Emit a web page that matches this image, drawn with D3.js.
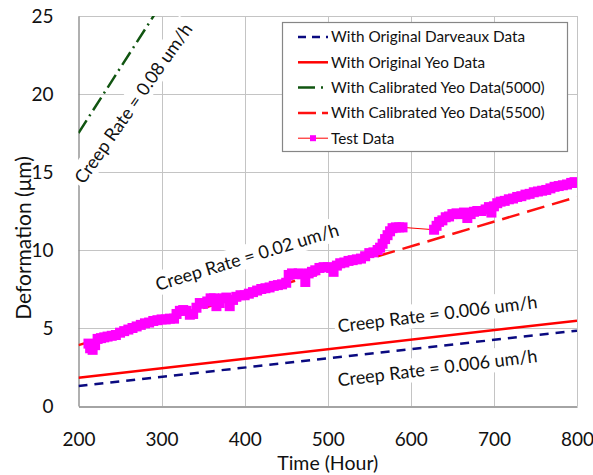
<!DOCTYPE html>
<html>
<head>
<meta charset="utf-8">
<script src="https://cdn.jsdelivr.net/npm/d3@7"></script>
<style>
  html, body { margin: 0; padding: 0; background: #fff; }
  svg { display: block; font-family: Lato, "Open Sans", sans-serif; }
</style>
</head>
<body>
<svg id="chart" width="593" height="475"></svg>
<script>
// ---------- data ----------
const xTicks = [200, 300, 400, 500, 600, 700, 800];
const yTicks = [0, 5, 10, 15, 20, 25];

const modelHours = [200, 800];
const darveauxValues = [1.28, 4.83];
const yeoOriginalValues = [1.81, 5.47];
const yeo5000Values = [17.5, 67.3];
const yeo5500Values = [3.9, 13.4];

const testHours = [212,214,217,220,223,227,231,235,240,245,250,255,260,265,270,275,280,285,290,295,
  300,305,310,315,318,322,326,330,334,338,342,346,350,355,359,363,366,370,374,378,382,386,390,395,
  400,405,410,415,420,425,430,435,440,445,450,453,457,461,465,469,473,477,481,485,490,495,
  500,504,507,511,515,520,525,530,535,540,545,550,555,560,563,566,569,572,575,578,582,586,590,
  628,631,634,638,642,646,650,655,660,664,668,672,676,680,685,690,694,697,
  700,704,708,713,718,723,728,733,738,743,748,753,758,763,768,773,778,783,788,793,797,800];
const testValues = [4.0,3.7,3.6,3.9,4.3,4.35,4.4,4.45,4.5,4.55,4.7,4.8,4.9,5.0,5.1,5.2,5.3,5.35,5.45,5.5,
  5.55,5.55,5.6,5.6,5.9,6.1,6.15,6.1,5.85,5.9,6.3,6.6,6.55,6.7,6.9,6.9,6.4,6.6,6.9,6.95,6.4,6.8,7.0,7.1,
  7.1,7.2,7.3,7.4,7.5,7.55,7.6,7.7,7.75,7.8,7.9,8.4,8.5,8.45,8.5,8.45,7.95,8.5,8.6,8.7,8.85,8.9,
  8.9,8.85,8.6,9.0,9.15,9.2,9.3,9.35,9.4,9.45,9.6,9.8,9.85,10.0,10.15,10.4,10.7,10.95,11.2,11.4,11.45,11.45,11.45,
  11.3,11.55,11.8,11.9,12.1,12.15,12.3,12.35,12.3,12.4,12.05,12.3,12.45,12.5,12.5,12.6,12.75,12.4,
  12.8,13.0,13.1,13.15,13.25,13.3,13.4,13.45,13.55,13.6,13.7,13.75,13.8,13.85,13.95,14.05,14.1,14.15,14.2,14.3,14.35,14.3];

const legendLabels = ["With Original Darveaux Data", "With Original Yeo Data",
  "With Calibrated Yeo Data(5000)", "With Calibrated Yeo Data(5500)", "Test Data"];

const annotationTexts = ["Creep Rate = 0.08 um/h", "Creep Rate = 0.02 um/h",
  "Creep Rate = 0.006 um/h", "Creep Rate = 0.006 um/h"];
const annotationHours = [266, 403, 632, 632];
const annotationValues = [19.4, 9.55, 5.9, 2.44];
const annotationAngles = [-55, -17, -7, -7];

// ---------- layout ----------
const svg = d3.select("#chart");
const plot = { left: 78.5, right: 577, top: 16, bottom: 406 };
const x = d3.scaleLinear().domain([200, 800]).range([plot.left, plot.right]);
const y = d3.scaleLinear().domain([0, 25]).range([plot.bottom, plot.top]);

svg.append("rect").attr("width", 593).attr("height", 475).attr("fill", "#fff");

svg.append("defs").append("clipPath").attr("id", "clip")
  .append("rect").attr("x", plot.left).attr("y", plot.top)
  .attr("width", plot.right - plot.left).attr("height", plot.bottom - plot.top);

// gridlines
const grid = svg.append("g");
grid.selectAll("line.h").data(yTicks.filter(d => d > 0)).join("line")
  .attr("x1", plot.left).attr("x2", plot.right)
  .attr("y1", d => Math.round(y(d)) + 0.5).attr("y2", d => Math.round(y(d)) + 0.5)
  .attr("stroke", "#c4c4c4").attr("stroke-width", 1);
grid.selectAll("line.v").data(xTicks.filter(d => d > 200)).join("line")
  .attr("y1", plot.top).attr("y2", plot.bottom)
  .attr("x1", d => Math.round(x(d)) + 0.5).attr("x2", d => Math.round(x(d)) + 0.5)
  .attr("stroke", "#c4c4c4").attr("stroke-width", 1);

// axes
const xAxis = d3.axisBottom(x).tickValues(xTicks).tickSize(0).tickPadding(0).tickFormat(d3.format("d"));
const yAxis = d3.axisLeft(y).tickValues(yTicks).tickSize(0).tickPadding(0).tickFormat(d3.format("d"));
const gx = svg.append("g").attr("transform", `translate(0,${plot.bottom + 0.5})`).call(xAxis);
const gy = svg.append("g").attr("transform", `translate(${plot.left},0)`).call(yAxis);
[gx, gy].forEach(g => {
  g.select(".domain").attr("stroke", "#868686").attr("stroke-width", 1.3);
  g.selectAll("text").attr("font-family", "Lato, sans-serif").attr("font-size", 19).attr("fill", "#111");
});
gx.selectAll("text").attr("dy", 0).attr("y", 39);
gy.selectAll("text").attr("x", -25).attr("dy", "0.35em");

// axis titles
svg.append("text").attr("x", (plot.left + plot.right) / 2).attr("y", 470)
  .attr("text-anchor", "middle").attr("font-size", 19.5).attr("fill", "#111").text("Time (Hour)");
svg.append("text").attr("transform", "translate(31,238) rotate(-90)")
  .attr("text-anchor", "middle").attr("font-size", 21).attr("fill", "#111").text("Deformation (μm)");

// annotations (white boxes)
const ann = svg.append("g");
annotationTexts.forEach((t, i) => {
  const g = ann.append("g")
    .attr("transform", `translate(${x(annotationHours[i])},${y(annotationValues[i])}) rotate(${annotationAngles[i]})`);
  const txt = g.append("text").attr("text-anchor", "middle").attr("dy", "0.35em")
    .attr("font-size", 18).attr("fill", "#111").text(t);
  const bb = txt.node().getBBox();
  g.insert("rect", "text").attr("x", bb.x - 3).attr("y", bb.y - 1)
    .attr("width", bb.width + 6).attr("height", bb.height + 2).attr("fill", "#fff");
});

// model lines
const line = d3.line().x(d => x(d[0])).y(d => y(d[1]));
const lines = svg.append("g").attr("clip-path", "url(#clip)");
const models = [
  { vals: darveauxValues, color: "#0a0a80", dash: "9,7" },
  { vals: yeoOriginalValues, color: "#ff0000", dash: null },
  { vals: yeo5000Values, color: "#115511", dash: "15,5,2,5" },
  { vals: yeo5500Values, color: "#ff1010", dash: "18,8" }
];
models.forEach(m => {
  lines.append("path").datum(modelHours.map((h, i) => [h, m.vals[i]]))
    .attr("d", line).attr("fill", "none").attr("stroke", m.color).attr("stroke-width", 2.5)
    .attr("stroke-dasharray", m.dash);
});

// test data
const testPts = testHours.map((h, i) => [h, testValues[i]]);
lines.append("path").datum(testPts).attr("d", line).attr("fill", "none")
  .attr("stroke", "#ff0000").attr("stroke-width", 1);
lines.selectAll("rect.m").data(testPts).join("rect")
  .attr("x", d => x(d[0]) - 5).attr("y", d => y(d[1]) - 5)
  .attr("width", 10).attr("height", 10).attr("fill", "#ff00ff");

// legend
const lg = svg.append("g");
lg.append("rect").attr("x", 282.5).attr("y", 22.5).attr("width", 285).attr("height", 129)
  .attr("fill", "#fff").attr("stroke", "#868686").attr("stroke-width", 1.2);
const ly = i => 37 + i * 25.3;
const legendStyles = [
  { color: "#0a0a80", dash: "8,6", w: 2.5 },
  { color: "#ff0000", dash: null, w: 2.5 },
  { color: "#115511", dash: "17,6,2,20", w: 2.5 },
  { color: "#ff1010", dash: "18,6", w: 2.5 },
  { color: "#ff0000", dash: null, w: 1 }
];
legendLabels.forEach((t, i) => {
  const s = legendStyles[i];
  lg.append("line").attr("x1", 298).attr("x2", 328).attr("y1", ly(i)).attr("y2", ly(i))
    .attr("stroke", s.color).attr("stroke-width", s.w).attr("stroke-dasharray", s.dash);
  if (i === 4) {
    lg.append("rect").attr("x", 310).attr("y", ly(i) - 3).attr("width", 6).attr("height", 6).attr("fill", "#ff00ff");
  }
  lg.append("text").attr("x", 331).attr("y", ly(i)).attr("dy", "0.35em")
    .attr("font-size", 15.3).attr("fill", "#111").text(t);
});
</script>
</body>
</html>
